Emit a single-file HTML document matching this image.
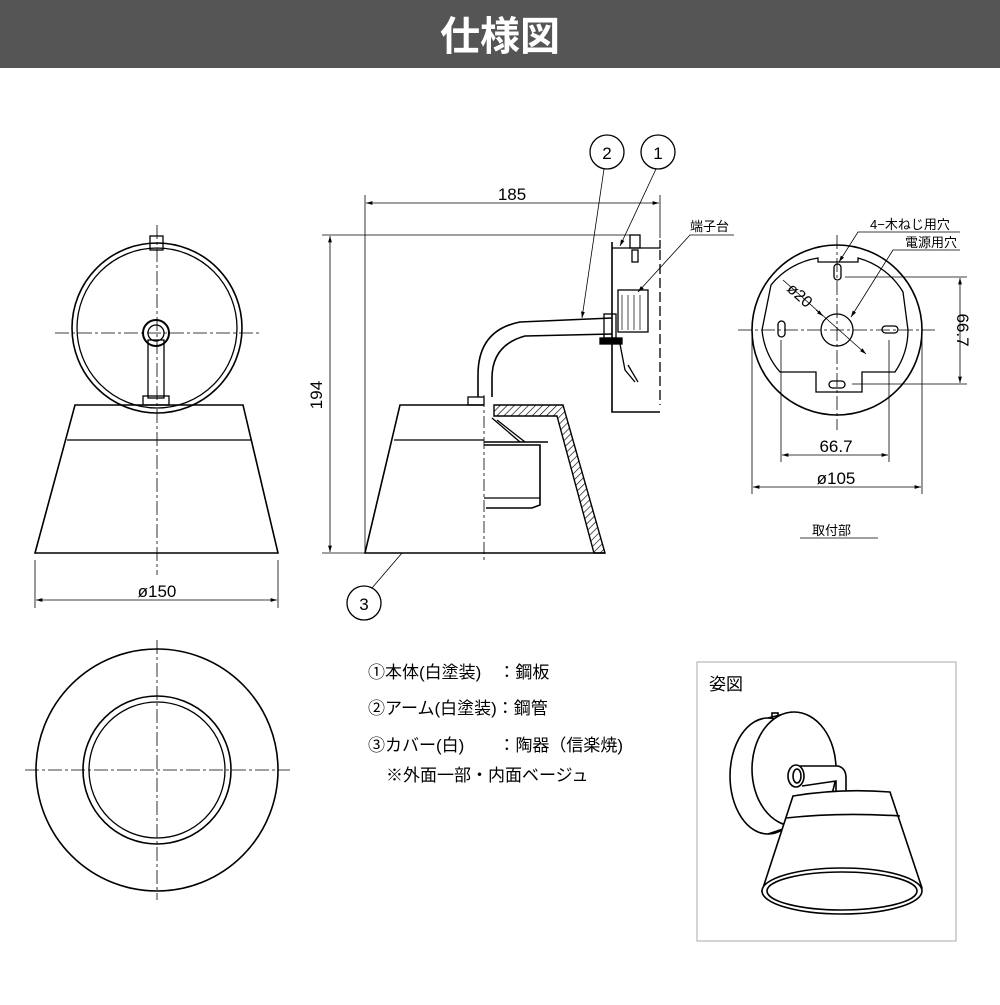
<!DOCTYPE html>
<html><head><meta charset="utf-8"><style>
html,body{margin:0;padding:0;background:#fff;}
body{width:1000px;height:1000px;overflow:hidden;}
svg text{font-family:"Liberation Sans","Noto Sans CJK JP",sans-serif;}
</style></head><body>
<svg width="1000" height="1000" viewBox="0 0 1000 1000" xmlns="http://www.w3.org/2000/svg">
<defs>
<marker id="a" viewBox="0 0 10 10" refX="10" refY="5" markerWidth="8" markerHeight="8" orient="auto-start-reverse"><path d="M0,2 L10,5 L0,8 z" fill="#000"/></marker>
<pattern id="h" width="5" height="5" patternUnits="userSpaceOnUse" patternTransform="rotate(45)"><line x1="0" y1="0" x2="0" y2="5" stroke="#000" stroke-width="1.3"/></pattern>
</defs>
<rect x="0" y="0" width="1000" height="68" fill="#555"/>
<text x="500" y="50" font-size="40" font-weight="bold" fill="#fff" text-anchor="middle">仕様図</text>

<g fill="none" stroke="#000" stroke-width="1.3">
<!-- FRONT VIEW -->
<circle cx="157" cy="328" r="85" stroke-width="1.6"/>
<circle cx="157" cy="328" r="80"/>
<rect x="150" y="236" width="13" height="14"/>
<circle cx="156" cy="333" r="13" stroke-width="2"/>
<circle cx="156" cy="333" r="8"/>
<rect x="148" y="340" width="16" height="58"/>
<rect x="143" y="396" width="26" height="9"/>
<path d="M75,405 L243,405 L278,553 L35,553 Z" stroke-width="1.6"/>
<line x1="67" y1="440" x2="251" y2="440"/>
<g stroke-dasharray="14,3,3,3" stroke-width="0.8">
<line x1="157" y1="225" x2="157" y2="575"/><line x1="55" y1="333" x2="262" y2="333"/>
</g>
<line x1="35" y1="560" x2="35" y2="608" stroke-width="0.8"/><line x1="278" y1="560" x2="278" y2="608" stroke-width="0.8"/>
<line x1="36" y1="600" x2="277" y2="600" stroke-width="0.8" marker-start="url(#a)" marker-end="url(#a)"/>

<!-- BOTTOM VIEW -->
<circle cx="157" cy="770" r="121" stroke-width="1.6"/>
<circle cx="157" cy="770" r="74" stroke-width="1.6"/>
<circle cx="157" cy="770" r="68"/>
<g stroke-dasharray="14,3,3,3" stroke-width="0.8">
<line x1="157" y1="640" x2="157" y2="900"/><line x1="25" y1="770" x2="290" y2="770"/>
</g>

<!-- SIDE VIEW -->
<path d="M484,405 L400,405 L365,553 L605,553" stroke-width="1.6"/>
<line x1="394" y1="440" x2="484" y2="440"/>
<path d="M494,405 L563,405 L605,553 L594,553 L557,416 L494,416 Z" fill="url(#h)" stroke-width="1.4"/>
<line x1="484" y1="395" x2="484" y2="560" stroke-dasharray="12,3,3,3" stroke-width="0.8"/>
<path d="M484,445 L540,445 L540,505 L532,508 L486,508" stroke-width="1.6"/>
<line x1="484" y1="498" x2="540" y2="498"/>
<line x1="484" y1="442" x2="548" y2="442" stroke-width="1.6"/>
<path d="M497,420 L525,442 M492,418 L520,442" />
<rect x="468" y="397" width="16" height="8"/>
<path d="M478,397 L478,375 Q478,330 520,322 L612,318" stroke-width="1.6"/>
<path d="M492,397 L492,378 Q492,345 525,336 L612,334" stroke-width="1.6"/>
<rect x="604" y="314" width="12" height="24"/>
<rect x="600" y="338" width="22" height="6" fill="#000"/>
<path d="M612,242 L612,412 L660,412" stroke-width="1.6"/>
<path d="M612,248 L660,248 L660,240" />
<rect x="630" y="235" width="10" height="13"/>
<rect x="632" y="250" width="6" height="12"/>
<rect x="618" y="290" width="30" height="42"/>
<g stroke-width="0.7"><line x1="622" y1="295" x2="622" y2="330"/><line x1="628" y1="295" x2="628" y2="330"/><line x1="634" y1="295" x2="634" y2="330"/><line x1="640" y1="295" x2="640" y2="330"/></g>
<path d="M620,344 L625,370 L635,382 M628,365 L638,382"/>
<line x1="660" y1="250" x2="660" y2="405" stroke-dasharray="10,4"/>
<!-- dims side -->
<line x1="365" y1="195" x2="365" y2="553" stroke-width="0.8"/>
<line x1="660" y1="195" x2="660" y2="238" stroke-width="0.8"/>
<line x1="366" y1="203" x2="659" y2="203" stroke-width="0.8" marker-start="url(#a)" marker-end="url(#a)"/>
<line x1="322" y1="235" x2="630" y2="235" stroke-width="0.8"/>
<line x1="322" y1="553" x2="365" y2="553" stroke-width="0.8"/>
<line x1="330" y1="236" x2="330" y2="552" stroke-width="0.8" marker-start="url(#a)" marker-end="url(#a)"/>
<!-- callouts -->
<circle cx="607" cy="152" r="17"/><circle cx="658" cy="152" r="17"/>
<line x1="604" y1="169" x2="582" y2="318" stroke-width="0.8" marker-end="url(#a)"/>
<line x1="656" y1="169" x2="620" y2="246" stroke-width="0.8" marker-end="url(#a)"/>
<path d="M734,235 L690,235 L638,292" stroke-width="0.8" marker-end="url(#a)"/>
<circle cx="364" cy="603" r="17"/>
<line x1="372" y1="588" x2="402" y2="553" stroke-width="0.8"/>

<!-- MOUNT VIEW -->
<circle cx="837" cy="330" r="85" stroke-width="1.6"/>
<path d="M771,285 A75,75 0 0 1 818,258 L818,262 L858,262 L858,258 A75,75 0 0 1 903,292 L908,330 A75,75 0 0 1 895,372 L862,372 L862,392 L816,392 L816,372 L780,372 A75,75 0 0 1 762,330 Z"/>
<circle cx="837" cy="330" r="16"/>
<rect x="834" y="264" width="7" height="16" rx="3.5"/>
<rect x="778" y="321" width="7" height="16" rx="3.5"/>
<rect x="882" y="326" width="16" height="7" rx="3.5"/>
<rect x="829" y="381" width="16" height="7" rx="3.5"/>
<g stroke-dasharray="14,3,3,3" stroke-width="0.8">
<line x1="837" y1="235" x2="837" y2="430"/><line x1="738" y1="330" x2="935" y2="330"/>
</g>
<line x1="783" y1="280" x2="866" y2="354" stroke-width="0.8" marker-end="url(#a)"/>
<line x1="816" y1="310" x2="823" y2="316" stroke-width="0.8" marker-end="url(#a)"/>
<path d="M960,232 L858,232 L839,262" stroke-width="0.8" marker-end="url(#a)"/>
<path d="M960,250 L893,250 L851,317" stroke-width="0.8" marker-end="url(#a)"/>
<line x1="845" y1="277" x2="967" y2="277" stroke-width="0.8"/>
<line x1="852" y1="384" x2="967" y2="384" stroke-width="0.8"/>
<line x1="960" y1="278" x2="960" y2="383" stroke-width="0.8" marker-start="url(#a)" marker-end="url(#a)"/>
<line x1="781" y1="340" x2="781" y2="462" stroke-width="0.8"/>
<line x1="889" y1="340" x2="889" y2="462" stroke-width="0.8"/>
<line x1="782" y1="455" x2="888" y2="455" stroke-width="0.8" marker-start="url(#a)" marker-end="url(#a)"/>
<line x1="752" y1="335" x2="752" y2="494" stroke-width="0.8"/>
<line x1="922" y1="335" x2="922" y2="494" stroke-width="0.8"/>
<line x1="753" y1="487" x2="921" y2="487" stroke-width="0.8" marker-start="url(#a)" marker-end="url(#a)"/>
<line x1="800" y1="538" x2="878" y2="538" stroke-width="0.8"/>

<!-- perspective box -->
<rect x="697" y="662" width="259" height="279" stroke="#aaa" stroke-width="1"/>
<g stroke-width="1.6">
<rect x="772" y="713" width="6" height="8"/>
<ellipse cx="768" cy="776" rx="38" ry="58" fill="#fff"/>
<path d="M768,718 L792,712 M768,834 L792,826"/>
<ellipse cx="794" cy="769" rx="42" ry="57" fill="#fff"/>
<path d="M800,766 L838,766 Q846,768 846,778 L846,795 L836,795 L836,781 L802,786" fill="#fff"/>
<ellipse cx="796" cy="776" rx="8" ry="11" fill="#fff"/>
<ellipse cx="797" cy="776" rx="4" ry="7"/>
<path d="M793,796 Q840,788 890,792 L922,888 Q850,925 762,891 Z" fill="#fff"/>
<path d="M786,818 Q840,812 900,816"/>
<ellipse cx="842" cy="891" rx="80" ry="23" fill="#fff"/>
<ellipse cx="842" cy="891" rx="75" ry="19"/>
</g>
</g>

<g font-size="17" fill="#000">
<text x="512" y="200" text-anchor="middle">185</text>
<text transform="translate(322,395) rotate(-90)" text-anchor="middle">194</text>
<text x="157" y="597" text-anchor="middle">ø150</text>
<text x="607" y="159" text-anchor="middle">2</text>
<text x="658" y="159" text-anchor="middle">1</text>
<text x="364" y="610" text-anchor="middle">3</text>
<text x="836" y="452" text-anchor="middle">66.7</text>
<text x="836" y="484" text-anchor="middle">ø105</text>
<text transform="translate(957,330) rotate(90)" text-anchor="middle">66.7</text>
<text transform="translate(786,290) rotate(42)" font-size="16">ø20</text>
</g>
<g font-size="13" fill="#000">
<text x="690" y="231">端子台</text>
<text x="870" y="229">4−木ねじ用穴</text>
<text x="905" y="247">電源用穴</text>
<text x="812" y="535">取付部</text>
</g>
<g font-size="17" fill="#000">
<text x="368" y="678">①本体(白塗装)　：鋼板</text>
<text x="368" y="714">②アーム(白塗装)：鋼管</text>
<text x="368" y="751">③カバー(白)　　：陶器（信楽焼)</text>
<text x="386" y="781">※外面一部・内面ベージュ</text>
<text x="709" y="690">姿図</text>
</g>
</svg>
</body></html>
